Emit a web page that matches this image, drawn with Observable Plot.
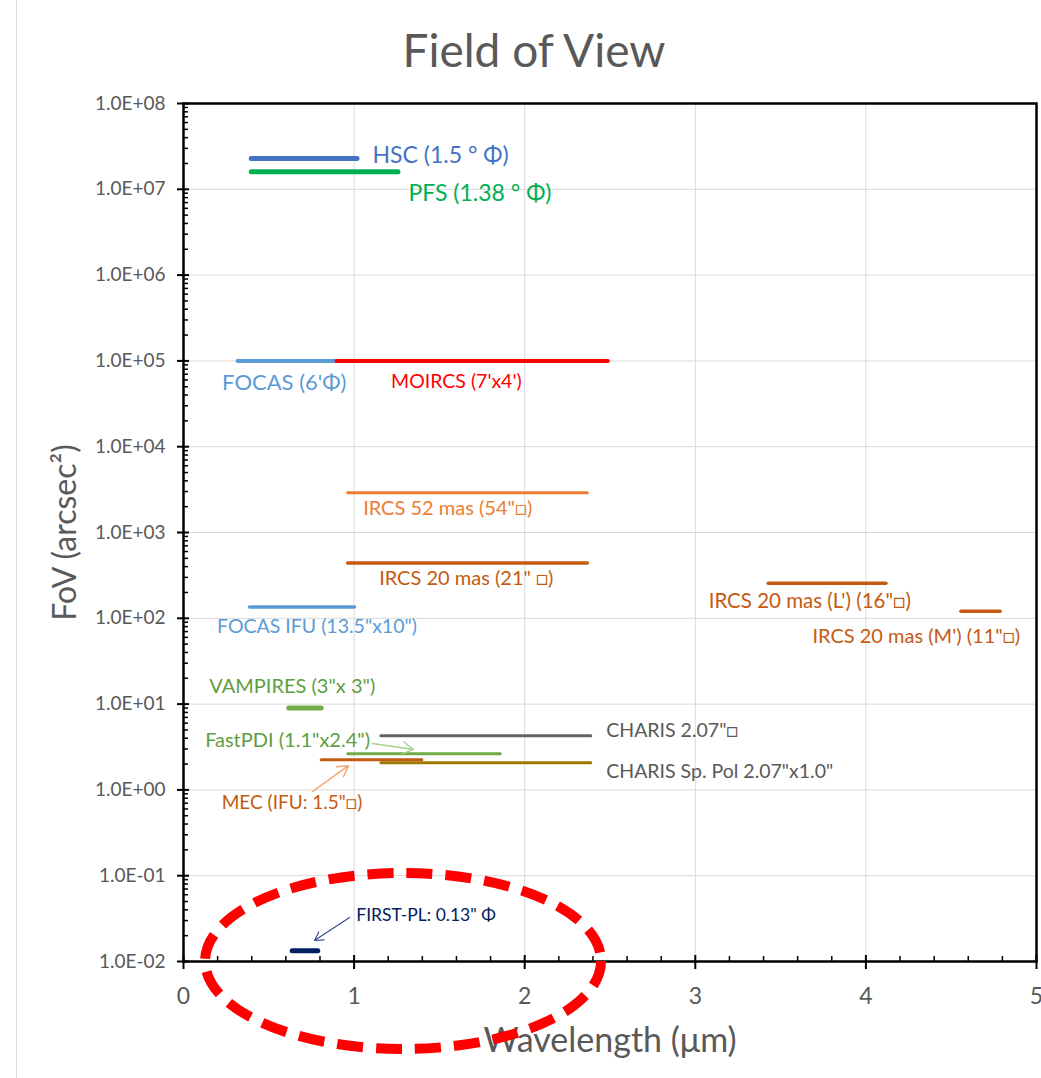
<!DOCTYPE html>
<html><head><meta charset="utf-8">
<script src="https://cdn.jsdelivr.net/npm/d3@7"></script>
<script src="https://cdn.jsdelivr.net/npm/@observablehq/plot@0.6"></script>
<style>
body{margin:0;background:#fff;font-family:Lato,"DejaVu Sans",sans-serif;}
#wrap{position:relative;width:1041px;height:1078px;overflow:hidden;background:#fff;}
#title{position:absolute;top:23px;left:0;width:1068px;text-align:center;font-size:46px;line-height:54px;color:#595959;}
#chart{position:absolute;top:90px;left:0;}
#border{position:absolute;left:16px;top:0;width:0;height:1078px;border-left:1px solid #d9d9d9;}
</style></head><body>
<div id="wrap"><div id="border"></div><div id="title">Field of View</div><div id="chart"></div></div>
<script>
// ---- data ----
const instruments = ["HSC","PFS","FOCAS","MOIRCS","IRCS52","IRCS20","FOCASIFU","IRCS20L","IRCS20M","VAMPIRES","CHARIS","FastPDI","MEC","CHARISSpPol","FIRSTPL"];
const wlStart = [0.40, 0.40, 0.32, 0.90, 0.965, 0.965, 0.39, 3.43, 4.56, 0.62, 1.16, 0.965, 0.81, 1.16, 0.64];
const wlEnd   = [1.02, 1.26, 0.90, 2.49, 2.37, 2.37, 1.005, 4.12, 4.79, 0.81, 2.39, 1.86, 1.40, 2.39, 0.79];
const fovValues = [2.29e7, 1.6e7, 1.0e5, 1.0e5, 2.9e3, 4.4e2, 1.35e2, 2.56e2, 1.21e2, 9.0, 4.28, 2.64, 2.25, 2.07, 0.0133];
const labelTexts = ["HSC (1.5 ° Φ)","PFS (1.38 ° Φ)","FOCAS (6'Φ)","MOIRCS (7'x4')","IRCS 52 mas (54\"□)","IRCS 20 mas (21\" □)","FOCAS IFU (13.5\"x10\")","IRCS 20 mas (L') (16\"□)","IRCS 20 mas (M') (11\"□)","VAMPIRES (3\"x 3\")","CHARIS 2.07\"□","FastPDI (1.1\"x2.4\")","MEC (IFU: 1.5\"□)","CHARIS Sp. Pol 2.07\"x1.0\"","FIRST-PL: 0.13\" Φ"];
const yTickValues = [1e-2,1e-1,1e0,1e1,1e2,1e3,1e4,1e5,1e6,1e7,1e8];
const xTickValues = [0,1,2,3,4,5];
const xMinorTicks = [0.2,0.4,0.6,0.8,1.2,1.4,1.6,1.8,2.2,2.4,2.6,2.8,3.2,3.4,3.6,3.8,4.2,4.4,4.6,4.8];
const yMinorTicks = [];
for (let e = -2; e < 8; e++) for (let m = 2; m <= 9; m++) yMinorTicks.push(m * Math.pow(10, e));
// annotation arrows (data coordinates)
const arrowFrom = {FastPDI: [1.108, 3.47], MEC: [0.756, 0.957], FIRSTPL: [0.973, 0.0326]};
const arrowTo   = {FastPDI: [1.348, 2.96], MEC: [0.967, 1.92], FIRSTPL: [0.768, 0.0176]};
const highlightCenter = [1.29, 0.01];

// ---- styles ----
const lineStyle = {
  HSC:{c:"#4472C4",w:5}, PFS:{c:"#00B050",w:5}, FOCAS:{c:"#5B9BD5",w:4}, MOIRCS:{c:"#FF0000",w:4},
  IRCS52:{c:"#ED7D31",w:3}, IRCS20:{c:"#C55A11",w:3.5}, FOCASIFU:{c:"#5B9BD5",w:3.5},
  IRCS20L:{c:"#C55A11",w:3.5}, IRCS20M:{c:"#C55A11",w:3.5}, VAMPIRES:{c:"#70AD47",w:5},
  CHARIS:{c:"#636363",w:3}, FastPDI:{c:"#70AD47",w:3}, MEC:{c:"#C55A11",w:3},
  CHARISSpPol:{c:"#A07800",w:3}, FIRSTPL:{c:"#002060",w:5}
};
const labelStyle = {
  HSC:{at:"end",dx:15,dy:-3,fs:23,c:"#4472C4"}, PFS:{at:"end",dx:10,dy:22,fs:23,c:"#00B050"},
  FOCAS:{at:"start",dx:-16,dy:22,fs:22,c:"#5B9BD5"}, MOIRCS:{at:"start",dx:54,dy:21,fs:19.5,c:"#FF0000"},
  IRCS52:{at:"start",dx:15,dy:16,fs:20,c:"#ED7D31"}, IRCS20:{at:"start",dx:31,dy:16,fs:20,c:"#C55A11"},
  FOCASIFU:{at:"start",dx:-33,dy:20,fs:19.5,c:"#5B9BD5"}, IRCS20L:{at:"start",dx:-60,dy:18,fs:20.5,c:"#C55A11"},
  IRCS20M:{at:"start",dx:-149,dy:25,fs:20,c:"#C55A11"}, VAMPIRES:{at:"start",dx:-80,dy:-21,fs:20,c:"#5E9E40"},
  CHARIS:{at:"end",dx:15,dy:-5,fs:19.5,c:"#595959"}, FastPDI:{at:"start",dx:-143,dy:-13,fs:20,c:"#5E9E40"},
  MEC:{at:"start",dx:-100,dy:43,fs:19,c:"#C55A11"}, CHARISSpPol:{at:"end",dx:15,dy:9,fs:19.5,c:"#595959"},
  FIRSTPL:{at:"end",dx:38,dy:-35,fs:17.5,c:"#002060"}
};
const arrowStyle = {FastPDI:{c:"#A9D18E",w:1.4}, MEC:{c:"#F4A36B",w:1.4}, FIRSTPL:{c:"#2F4A8A",w:1.1}};

const rows = instruments.map((name, i) => ({name, x1: wlStart[i], x2: wlEnd[i], fov: fovValues[i], label: labelTexts[i]}));
const yFmt = d => { const e = Math.round(Math.log10(d)); return "1.0E" + (e < 0 ? "-" : "+") + String(Math.abs(e)).padStart(2, "0"); };
const gray = "#595959";
const ff = "Lato, 'DejaVu Sans', sans-serif";

const barMarks = rows.map(r => Plot.ruleY([r], {y: "fov", x1: "x1", x2: "x2", stroke: lineStyle[r.name].c, strokeWidth: lineStyle[r.name].w, strokeLinecap: "round"}));
const labelMarks = rows.map(r => { const s = labelStyle[r.name];
  return Plot.text([r], {x: s.at === "end" ? "x2" : "x1", y: "fov", text: "label", dx: s.dx, dy: s.dy, textAnchor: "start", fontSize: s.fs, fill: s.c, fontFamily: ff}); });
const arrowMarks = Object.keys(arrowFrom).map(k => Plot.arrow([{k}], {
  x1: () => arrowFrom[k][0], y1: () => arrowFrom[k][1], x2: () => arrowTo[k][0], y2: () => arrowTo[k][1],
  stroke: arrowStyle[k].c, strokeWidth: arrowStyle[k].w, headLength: 13}));

const ellipseMark = (index, scales) => {
  return d3.create("svg:ellipse")
    .attr("cx", scales.x(highlightCenter[0])).attr("cy", scales.y(highlightCenter[1]))
    .attr("rx", 198).attr("ry", 88)
    .attr("fill", "none").attr("stroke", "#FF0000").attr("stroke-width", 10)
    .attr("stroke-dasharray", "26 13").node();
};

const plot = Plot.plot({
  width: 1041, height: 988,
  marginLeft: 183, marginRight: 5, marginTop: 13, marginBottom: 117,
  style: {fontFamily: ff, background: "transparent", overflow: "visible"},
  x: {domain: [0, 5], label: null},
  y: {type: "log", domain: [1e-2, 1e8], label: null},
  marks: [
    Plot.gridY(yTickValues, {stroke: "#d9d9d9", strokeOpacity: 1, strokeWidth: 1}),
    Plot.gridX([1,2,3,4], {stroke: "#d9d9d9", strokeOpacity: 1, strokeWidth: 1}),
    Plot.frame({stroke: "black", strokeWidth: 2.5}),
    Plot.axisY(yTickValues, {tickSize: 12, dx: 6, tickFormat: () => "", stroke: "black", strokeWidth: 2, label: null}),
    Plot.axisY(yMinorTicks, {tickSize: 5, dx: 5, tickFormat: () => "", stroke: "black", strokeWidth: 1.5, label: null}),
    Plot.axisY(yTickValues, {tickSize: 0, tickPadding: 18, tickFormat: yFmt, fontSize: 19, fill: gray, label: null}),
    Plot.axisX(xTickValues, {tickSize: 14, dy: -6, tickFormat: () => "", stroke: "black", strokeWidth: 2, label: null}),
    Plot.axisX(xMinorTicks, {tickSize: 6, dy: -5, tickFormat: () => "", stroke: "black", strokeWidth: 1.5, label: null}),
    Plot.axisX(xTickValues, {tickSize: 0, tickPadding: 26, tickFormat: d => String(d), fontSize: 23, fill: gray, label: null}),
    ...barMarks,
    ...labelMarks,
    ...arrowMarks,
    Plot.text(["FoV (arcsec²)"], {frameAnchor: "left", textAnchor: "middle", rotate: -90, dx: -118, fontSize: 32, fill: gray}),
    Plot.text(["Wavelength (μm)"], {frameAnchor: "bottom", textAnchor: "middle", dy: 90, fontSize: 34, fill: gray}),
    ellipseMark
  ]
});
document.getElementById("chart").appendChild(plot);
</script>
</body></html>
